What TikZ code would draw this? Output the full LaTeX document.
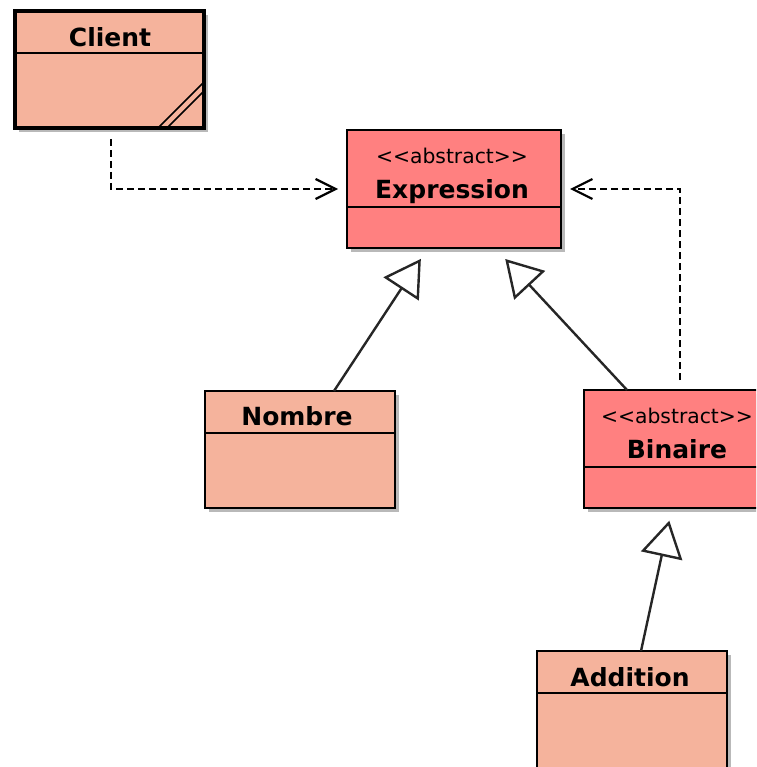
\documentclass[tikz,border=0pt]{standalone}
\usepackage{fontspec}
\setmainfont{DejaVu Sans}
\newfontfamily\stfont{DejaVu Sans}[Ligatures=TeXOff]
\usetikzlibrary{arrows.meta,calc,shadows}
\definecolor{salmon}{HTML}{F5B39C}
\definecolor{pinkred}{HTML}{FF8080}
\tikzset{
  classbox/.style={draw=black, line width=2.4pt, inner sep=0pt, outer sep=0pt,
    drop shadow={shadow xshift=4pt, shadow yshift=-4pt, fill=black!55}},
  concrete/.style={classbox, fill=salmon},
  abstractc/.style={classbox, fill=pinkred},
  nametext/.style={anchor=base, inner sep=0pt, font=\bfseries\fontsize{25}{25}\selectfont},
  stereotext/.style={anchor=base, inner sep=0pt, font=\stfont\fontsize{20.3}{20}\selectfont},
  divider/.style={line width=2.4pt},
  dep/.style={line width=2.2pt, dash pattern=on 7pt off 4pt, -{Straight Barb[length=20pt,width=20pt,line width=2.2pt]}},
  inherit/.style={line width=2.4pt, draw=black!85, -{Triangle[open,length=36pt,width=42pt,line width=2.4pt]}}
}
\begin{document}
\begin{tikzpicture}[x=1pt,y=-1pt]
\useasboundingbox (0,0) rectangle (756,767);
\clip (0,0) rectangle (756,767);
% Client
\node[concrete, line width=3.5pt, minimum width=189pt, minimum height=117pt] (client) at (109.5,69.5) {};
\draw[divider] (client.west |- 0,53) -- (client.east |- 0,53);
\node[nametext] (clientT) at (110,47) {Client};
\draw[line width=1.5pt] ($(client.south east)+(-46,0)$) -- ($(client.south east)+(0,-46)$);
\draw[line width=1.5pt] ($(client.south east)+(-37,0)$) -- ($(client.south east)+(0,-37)$);
% Expression
\node[abstractc, minimum width=214pt, minimum height=118pt] (expr) at (454,189) {};
\draw[divider] (expr.west |- 0,207) -- (expr.east |- 0,207);
\node[stereotext] (exprS) at (452,164) {<<abstract>>};
\node[nametext] (exprT) at (452,199) {Expression};
% Nombre
\node[concrete, minimum width=190pt, minimum height=117pt] (nombre) at (300,449.5) {};
\draw[divider] (nombre.west |- 0,433) -- (nombre.east |- 0,433);
\node[nametext] (nombreT) at (297,425) {Nombre};
% Binaire
\node[abstractc, minimum width=186pt, minimum height=118pt] (bin) at (677,449) {};
\draw[divider] (bin.west |- 0,467) -- (bin.east |- 0,467);
\node[stereotext] (binS) at (677,423) {<<abstract>>};
\node[nametext] (binT) at (677,458) {Binaire};
% Addition
\node[concrete, minimum width=190pt, minimum height=130pt] (add) at (632,716) {};
\draw[divider] (add.west |- 0,693) -- (add.east |- 0,693);
\node[nametext] (addT) at (630,686) {Addition};
% connectors
\draw[dep, shorten <=11pt, shorten >=9pt] ([xshift=1.5pt]client.south) |- (expr.west);
\draw[dep, shorten <=10pt, shorten >=9pt] ([xshift=3pt]bin.north) |- (expr.east);
\draw[inherit, shorten >=13pt] ([xshift=34pt]nombre.north) -- ([xshift=-26pt]expr.south);
\draw[inherit, shorten >=15pt] ([xshift=-50pt]bin.north) -- ([xshift=41pt]expr.south);
\draw[inherit, shorten >=13pt] ([xshift=9pt]add.north) -- ([xshift=-5pt]bin.south);
\end{tikzpicture}
\end{document}
